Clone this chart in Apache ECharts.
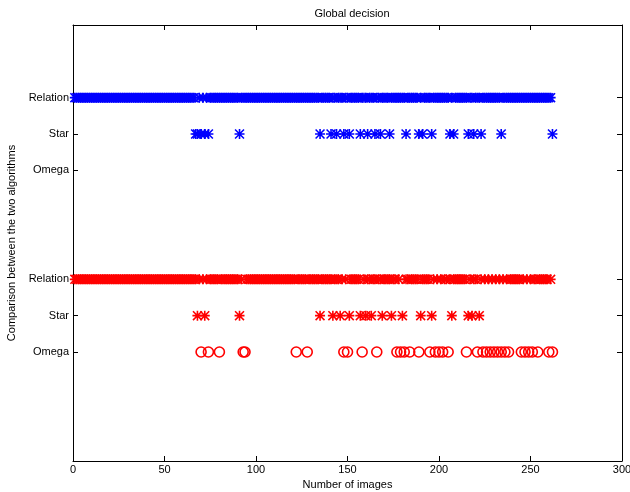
<!DOCTYPE html>
<html>
<head>
<meta charset="utf-8">
<script src="https://cdn.jsdelivr.net/npm/echarts@6/dist/echarts.min.js"></script>
<style>html,body{margin:0;padding:0;background:#fff;}#c{width:630px;height:492px;}</style>
</head>
<body>
<div id="c"></div>
<script>
// Tick labels on the y axis
var yTickValues = [3, 4, 5, 8, 9, 10];
var yTickLabels = ['Omega', 'Star', 'Relation', 'Omega', 'Star', 'Relation'];
var xTicks = [0, 50, 100, 150, 200, 250, 300];

// Algorithm 1 (blue) image indices per decision
var blueRelation = [1,2,3,4,5,6,7,8,9,10,11,12,13,14,15,16,17,18,19,20,21,22,23,24,25,26,27,28,29,30,
  31,32,33,34,35,36,37,38,39,40,41,42,43,44,45,46,47,48,49,50,51,52,53,54,55,56,57,58,59,60,
  61,62,63,64,65,66,69,71,73,75,76,77,78,79,80,81,82,83,84,85,86,87,88,89,90,
  92,93,94,95,96,97,98,99,100,101,102,103,104,105,106,107,108,109,110,111,112,113,114,115,116,117,118,119,120,
  121,122,123,124,125,126,127,128,129,130,131,132,133,134,136,137,138,139,140,142,143,145,146,147,149,150,
  152,153,154,155,156,158,159,160,162,163,164,166,167,169,170,171,172,174,175,176,177,178,179,180,181,
  183,184,185,186,187,188,190,192,193,194,195,197,198,199,200,201,202,203,204,205,207,
  209,210,211,212,213,214,215,217,218,220,221,222,224,225,226,227,228,229,230,231,232,233,
  235,236,237,238,239,240,241,242,243,244,245,246,247,248,249,250,251,252,253,254,255,256,257,258,259,260,261];
var blueStar = [67,68,70,72,74,91,135,141,144,148,151,157,161,165,168,173,182,189,191,196,206,208,216,219,223,234,262];
var blueOmega = [];

// Algorithm 2 (red) image indices per decision
var redRelation = [1,2,3,4,5,6,7,8,9,10,11,12,13,14,15,16,17,18,19,20,21,22,23,24,25,26,27,28,29,30,
  31,32,33,34,35,36,37,38,39,40,41,42,43,44,45,46,47,48,49,50,51,52,53,54,55,56,57,58,59,60,
  61,62,63,64,65,66,67,69,71,73,75,76,77,78,79,81,82,83,84,85,86,87,88,89,90,92,
  95,96,97,98,99,100,101,102,103,104,105,106,107,108,109,110,111,112,113,114,115,116,117,118,119,120,121,
  123,124,125,126,127,129,130,131,132,133,134,136,137,138,139,140,141,143,144,145,147,149,
  152,153,154,155,156,159,161,162,164,165,167,168,170,171,172,173,175,176,178,182,183,
  185,186,187,188,191,192,193,194,197,199,201,203,204,206,208,209,210,211,212,213,214,
  217,219,220,223,225,227,229,231,233,235,237,239,240,241,242,243,244,246,248,250,252,253,
  255,256,257,258,259,261];
var redStar = [68,72,91,135,142,146,151,157,160,163,169,174,180,190,196,207,216,218,222];
var redOmega = [70,74,80,93,94,122,128,148,150,158,166,177,179,181,184,189,195,198,200,202,205,
  215,221,224,226,228,230,232,234,236,238,245,247,249,251,254,260,262];

var BLUE = '#0000ff', RED = '#ff0000';
var STAR = 'path://M4.2,0H5.8V10H4.2Z M0,4.2H10V5.8H0Z M1.1,0L10,8.9L8.9,10L0,1.1Z M8.9,0L10,1.1L1.1,10L0,8.9Z';
var FONT = 'Liberation Sans';

function pts(arr, y) { return arr.map(function (v) { return [v, y]; }); }
function starSeries(arr, y, color, size) {
  return { type: 'scatter', data: pts(arr, y), symbol: STAR, symbolSize: size,
    itemStyle: { color: color, opacity: 1 }, silent: true, animation: false };
}
function circleSeries(arr, y, color) {
  return { type: 'scatter', data: pts(arr, y), symbol: 'circle', symbolSize: 10,
    itemStyle: { color: 'transparent', borderColor: color, borderWidth: 1.6, opacity: 1 },
    silent: true, animation: false };
}

var labelMap = {};
yTickValues.forEach(function (v, i) { labelMap[v] = yTickLabels[i]; });

var axisLineStyle = { show: true, onZero: false, lineStyle: { color: '#000', width: 1 } };
var tickStyle = { show: true, inside: true, length: 5, lineStyle: { color: '#000' } };
var chart = echarts.init(document.getElementById('c'), null, { renderer: 'canvas' });
chart.setOption({
  backgroundColor: '#fff',
  animation: false,
  textStyle: { fontFamily: FONT },
  title: { text: 'Global decision', left: 347, top: 3, textAlign: 'center',
    textStyle: { fontFamily: FONT, fontSize: 11, fontWeight: 'normal', color: '#000' } },
  grid: { left: 73, right: 8, top: 25, bottom: 31, containLabel: false, outerBoundsMode: 'none' },
  xAxis: [{
    type: 'value', min: 0, max: 300, interval: 50, position: 'bottom',
    name: 'Number of images', nameLocation: 'middle', nameGap: 17,
    nameTextStyle: { fontFamily: FONT, fontSize: 11, color: '#000' },
    axisLine: axisLineStyle, splitLine: { show: false },
    axisTick: tickStyle,
    axisLabel: { color: '#000', fontSize: 11, fontFamily: FONT, margin: 3,
      customValues: xTicks }
  }, {
    type: 'value', min: 0, max: 300, interval: 50, position: 'top',
    axisLine: axisLineStyle, splitLine: { show: false },
    axisTick: tickStyle,
    axisLabel: { show: false }
  }],
  yAxis: [{
    type: 'value', min: 0, max: 12, interval: 1, position: 'left',
    name: 'Comparison between the two algorithms', nameLocation: 'middle', nameGap: 56,
    nameRotate: 90,
    nameTextStyle: { fontFamily: FONT, fontSize: 11, color: '#000' },
    axisLine: axisLineStyle, splitLine: { show: false },
    axisTick: { show: true, inside: true, length: 5, customValues: yTickValues, lineStyle: { color: '#000' } },
    axisLabel: { color: '#000', fontSize: 11, fontFamily: FONT, margin: 4,
      customValues: yTickValues,
      formatter: function (v) { return labelMap[v] || ''; } }
  }, {
    type: 'value', min: 0, max: 12, interval: 1, position: 'right',
    axisLine: axisLineStyle, splitLine: { show: false },
    axisTick: { show: true, inside: true, length: 5, customValues: yTickValues, lineStyle: { color: '#000' } },
    axisLabel: { show: false }
  }],
  series: [
    starSeries(blueRelation, 10, BLUE, 10),
    starSeries(blueStar, 9, BLUE, 10),
    circleSeries(blueOmega, 8, BLUE),
    starSeries(redRelation, 5, RED, 10),
    starSeries(redStar, 4, RED, 10),
    circleSeries(redOmega, 3, RED)
  ]
});
</script>
</body>
</html>
